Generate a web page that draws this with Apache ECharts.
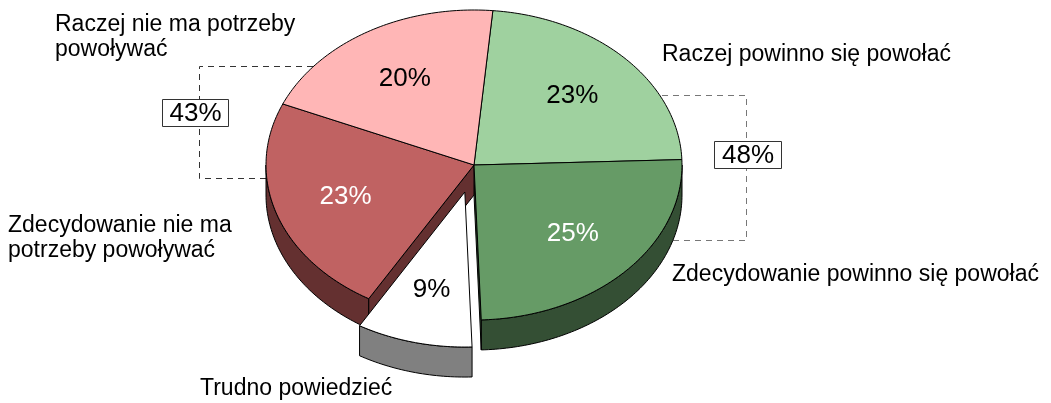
<!DOCTYPE html>
<html><head><meta charset="utf-8">
<script src="https://cdn.jsdelivr.net/npm/echarts@6/dist/echarts.min.js"></script>
<style>html,body{margin:0;padding:0;background:#fff}#c{width:1051px;height:403px}</style>
</head><body><div id="c"></div>
<script>
// ---- data ----
const categories = ['Raczej powinno się powołać', 'Zdecydowanie powinno się powołać', 'Trudno powiedzieć', 'Zdecydowanie nie ma potrzeby powoływać', 'Raczej nie ma potrzeby powoływać'];
const labelTexts = ['Raczej powinno się powołać', 'Zdecydowanie powinno się powołać', 'Trudno powiedzieć', 'Zdecydowanie nie ma\npotrzeby powoływać', 'Raczej nie ma potrzeby\npowoływać'];
const values = [23, 25, 9, 23, 20];
const exploded = [false, false, true, false, false];
const positiveGroup = [0, 1];   // indices summed in right bracket
const negativeGroup = [3, 4];   // indices summed in left bracket

// ---- style / layout ----
const topColors = ['#9fd19f', '#669b66', '#ffffff', '#c06262', '#ffb6b6'];
const sideColors = ['#506a50', '#344f34', '#808080', '#643030', '#805b5b'];
const innerTextColors = ['#000', '#fff', '#000', '#fff', '#000'];
const outerLabelPos = [[662, 55, 'left'], [672, 275, 'left'], [200, 389, 'left'], [8, 238.5, 'left'], [55, 37.5, 'left']];
const CX = 474, CY = 165, RX = 208, RY = 155, DEPTH = 30, START = 5.2, EXPLODE = 0.18, LF = 0.65;
const FONT = '"Liberation Sans", Arial, sans-serif';

const total = values.reduce((s, v) => s + v, 0);
const cum = [];
values.reduce((s, v, i) => { cum[i] = s; return s + v; }, 0);
const rad = d => d * Math.PI / 180;
function pt(cx, cy, deg, dz) { return [cx + RX * Math.sin(rad(deg)), cy - RY * Math.cos(rad(deg)) + (dz || 0)]; }
function arc(cx, cy, a, b, dz) {
  const n = Math.max(2, Math.ceil(Math.abs(b - a)));
  const p = [];
  for (let k = 0; k <= n; k++) p.push(pt(cx, cy, a + (b - a) * k / n, dz));
  return p;
}
const outline = { stroke: '#000', lineWidth: 1, lineJoin: 'round' };

function renderItem(params, api) {
  const i = params.dataIndex;
  const v = api.value(0);
  const a = START + cum[i] / total * 360;
  const b = a + v / total * 360;
  const m = (a + b) / 2;
  let cx = CX, cy = CY;
  if (exploded[i]) { cx += RX * Math.sin(rad(m)) * EXPLODE; cy -= RY * Math.cos(rad(m)) * EXPLODE; }
  const children = [];
  // curved outer side
  const lo = Math.max(a, 90), hi = Math.min(b, 270);
  if (hi > lo) {
    const pts = arc(cx, cy, lo, hi, 0).concat(arc(cx, cy, hi, lo, DEPTH));
    children.push({ type: 'polygon', z2: 1, shape: { points: pts }, style: Object.assign({ fill: sideColors[i] }, outline) });
  }
  const n = values.length;
  const prev = (i + n - 1) % n, next = (i + 1) % n;
  if ((exploded[i] || exploded[prev]) && Math.sin(rad(a)) < 0) {
    const r = pt(cx, cy, a, 0), r2 = pt(cx, cy, a, DEPTH);
    children.push({ type: 'polygon', z2: 2, shape: { points: [[cx, cy], r, r2, [cx, cy + DEPTH]] }, style: Object.assign({ fill: sideColors[i] }, outline) });
  }
  if ((exploded[i] || exploded[next]) && Math.sin(rad(b)) > 0) {
    const r = pt(cx, cy, b, 0), r2 = pt(cx, cy, b, DEPTH);
    children.push({ type: 'polygon', z2: 2, shape: { points: [[cx, cy], r, r2, [cx, cy + DEPTH]] }, style: Object.assign({ fill: sideColors[i] }, outline) });
  }
  // top face
  children.push({ type: 'polygon', z2: 5, shape: { points: [[cx, cy]].concat(arc(cx, cy, a, b, 0)) }, style: Object.assign({ fill: topColors[i] }, outline) });
  // inner percentage label
  children.push({ type: 'text', z2: 10, style: {
    text: v + '%', x: cx + RX * LF * Math.sin(rad(m)), y: cy - RY * LF * Math.cos(rad(m)),
    fill: innerTextColors[i], font: '26px ' + FONT, align: 'center', verticalAlign: 'middle', textAlign: 'center', textVerticalAlign: 'middle'
  } });
  // outer category label
  const lp = outerLabelPos[i];
  children.push({ type: 'text', z2: 10, style: {
    text: labelTexts[i], x: lp[0], y: lp[1], fill: '#000', font: '23px ' + FONT, lineHeight: 25,
    align: lp[2], verticalAlign: 'middle', textAlign: lp[2], textVerticalAlign: 'middle'
  } });
  return { type: 'group', children };
}

const negSum = negativeGroup.reduce((s, k) => s + values[k], 0);
const posSum = positiveGroup.reduce((s, k) => s + values[k], 0);
const dash = (pts, color) => ({ type: 'polyline', z: 0, silent: true, shape: { points: pts }, style: { stroke: color, lineWidth: 1, lineDash: [6, 5], fill: null } });
const box = (x, y, w, h, txt) => ({ type: 'group', z: 0, children: [
  { type: 'rect', shape: { x: x, y: y, width: w, height: h }, style: { fill: '#fff', stroke: '#333', lineWidth: 1 } },
  { type: 'text', style: { text: txt, x: x + w / 2, y: y + h / 2 + 1, font: '26px ' + FONT, fill: '#000', align: 'center', verticalAlign: 'middle', textAlign: 'center', textVerticalAlign: 'middle' } }
] });

const chart = echarts.init(document.getElementById('c'), null, { renderer: 'canvas' });
chart.setOption({
  animation: false,
  backgroundColor: '#fff',
  graphic: [
    dash([[335, 66.5], [199.5, 66.5], [199.5, 178.5], [295, 178.5]], '#333'),
    dash([[640, 95.5], [746.5, 95.5], [746.5, 240.5], [650, 240.5]], '#777'),
    box(162.5, 99.5, 66, 27, negSum + '%'),
    box(714.5, 141.5, 67, 27, posSum + '%')
  ],
  series: [{
    type: 'custom',
    coordinateSystem: 'none',
    z: 5,
    silent: true,
    renderItem: renderItem,
    data: values.map((v, i) => ({ name: categories[i], value: [v] }))
  }]
});
</script></body></html>
